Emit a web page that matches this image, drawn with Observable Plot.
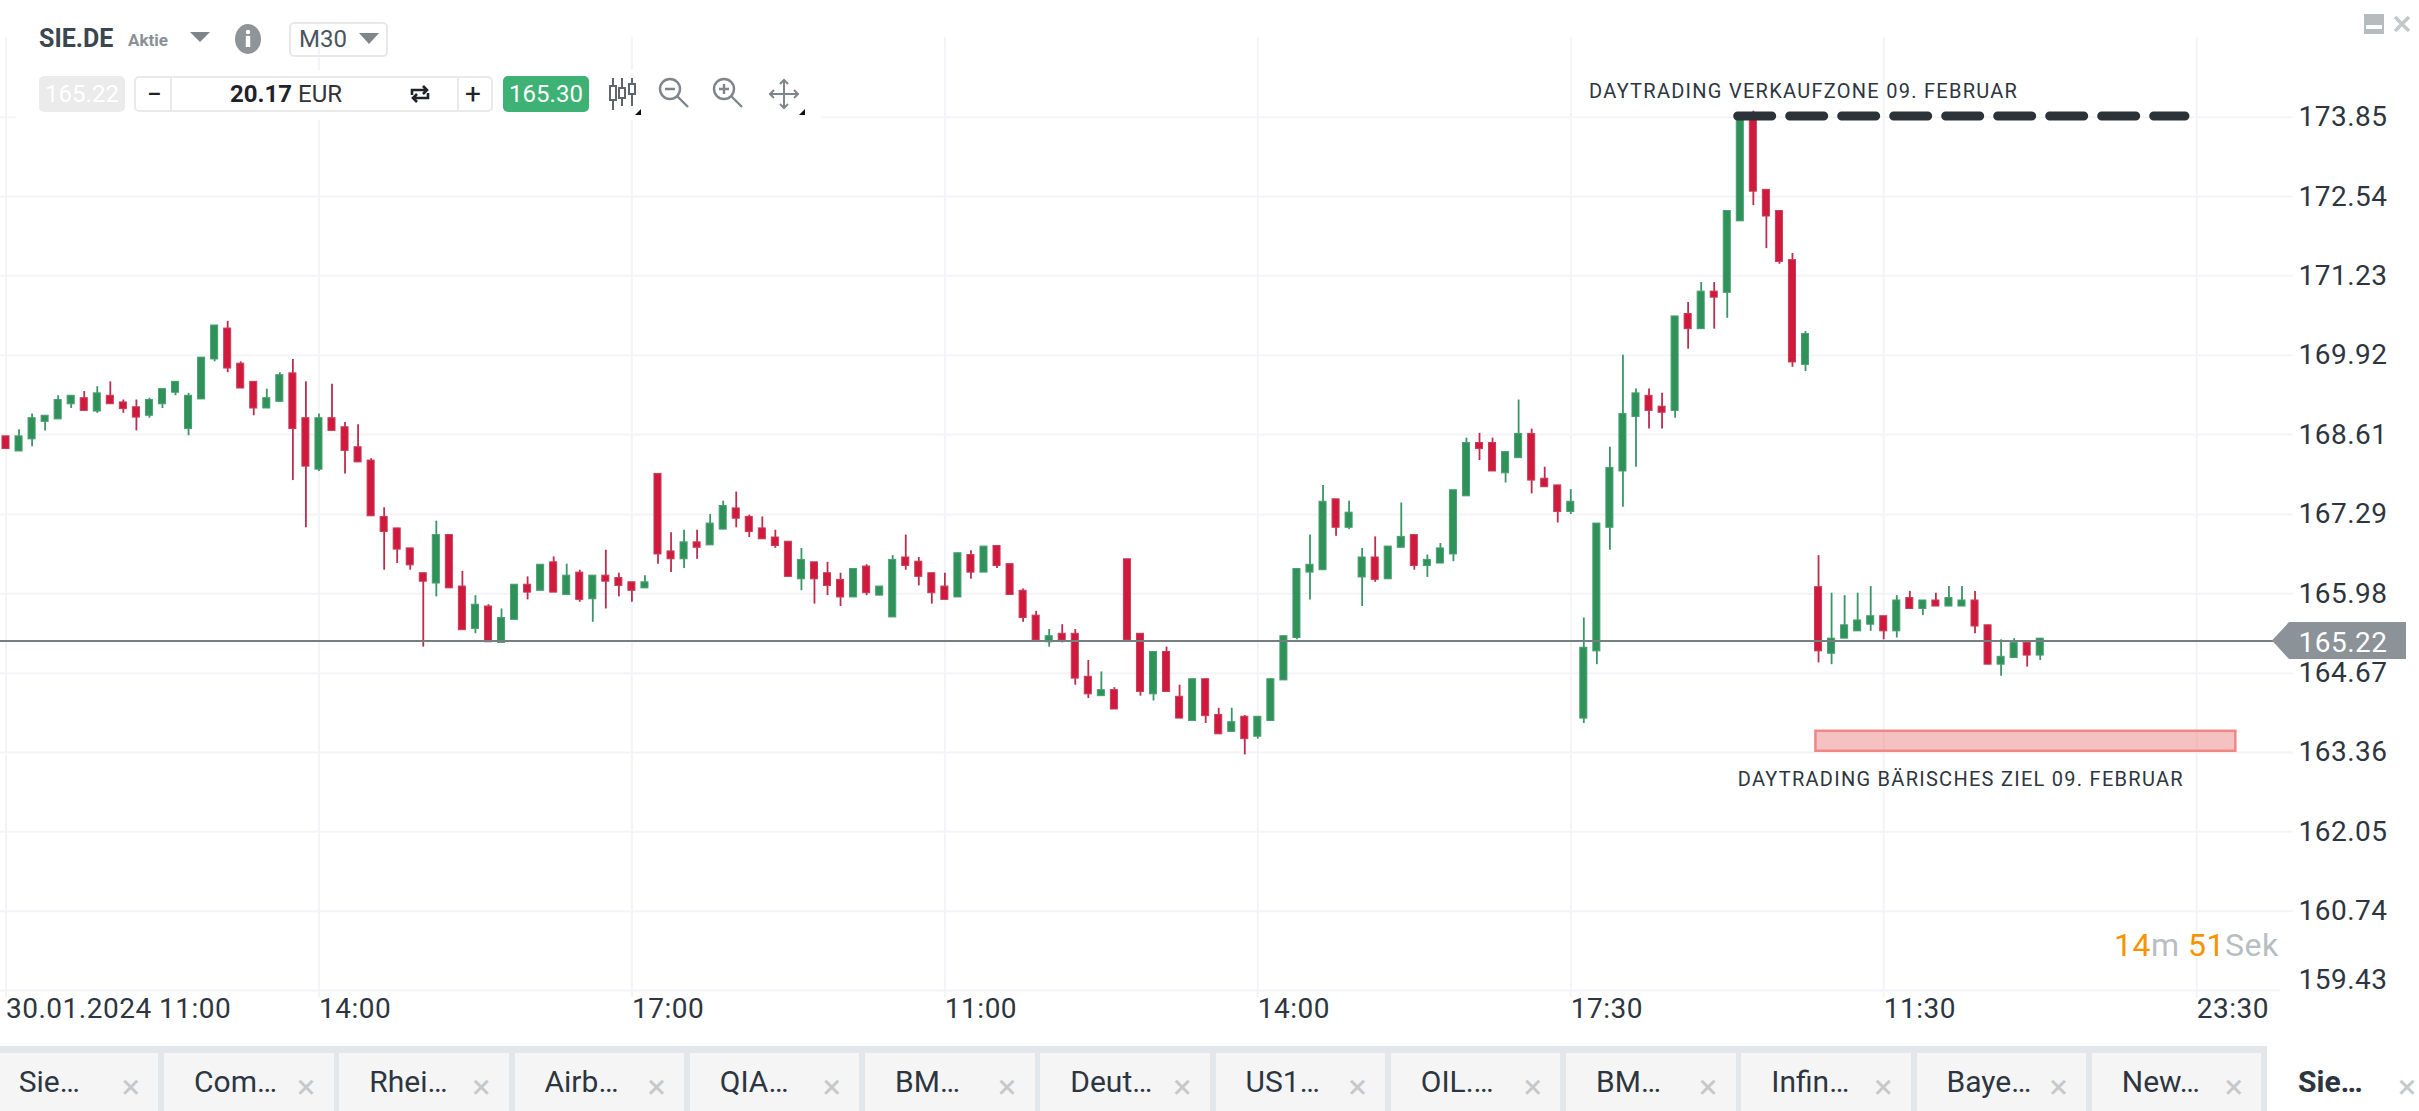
<!DOCTYPE html>
<html lang="de">
<head>
<meta charset="utf-8">
<title>SIE.DE M30</title>
<script src="https://cdn.jsdelivr.net/npm/d3@7"></script>
<script src="https://cdn.jsdelivr.net/npm/@observablehq/plot@0.6"></script>
<style>
html,body{margin:0;padding:0;background:#fff;width:2419px;height:1111px;overflow:hidden}
#wrap{position:relative;width:2419px;height:1111px;font-family:Roboto,sans-serif;color:#2d3640;overflow:hidden}
#wrap svg.plot-root{position:absolute;left:0;top:0}
.abs{position:absolute;white-space:nowrap}
.box{position:absolute;box-sizing:border-box}
.ctr{display:flex;align-items:center;justify-content:center}
.tab{position:absolute;top:1053px;height:58px;background:#f5f5f6;font-size:30px;line-height:58px}
.tab span.l{position:absolute;left:30px;top:0}
.tab span.x{position:absolute;left:133px;top:4px;color:#c6c9cb;font-size:34px;font-weight:400}
</style>
</head>
<body>
<div id="wrap"></div>
<script>
const direction = (
  "rgggggrgrr"+"rggggggrrr"+"ggrrgrrrrr"+"rrrgrrgrgg"+"rgrgrgrrrg"+"rrgrggrrrr"+"rgrrrgrggr"+"rrrgrgrrrr"+
  "grrrgrrrgr"+"rgrrgrgggg"+"ggrggrggrg"+"gggrrggrrr"+"ggggggrrgr"+"grggrrrrgr"+"ggggrgrgrg"+"grrggrg").split("");
const high = [
168.58,168.69,168.95,168.92,169.25,169.25,169.32,169.40,169.48,169.18,
169.18,169.21,169.36,169.48,169.29,169.88,170.41,170.48,169.81,169.48,
169.36,169.63,169.85,169.48,168.95,169.44,168.81,168.77,168.21,167.40,
167.06,166.73,166.32,167.18,166.95,166.35,165.95,165.80,165.73,166.13,
166.26,166.46,166.59,166.47,166.37,166.28,166.70,166.32,166.17,166.28,
167.96,166.99,167.03,167.03,167.29,167.51,167.66,167.28,167.25,167.03,
166.84,166.73,166.50,166.50,166.32,166.39,166.46,166.10,166.61,166.95,
166.58,166.32,166.32,166.65,166.69,166.76,166.77,166.47,166.06,165.69,
165.39,165.47,165.39,164.88,164.69,164.43,166.55,165.32,165.02,165.10,
164.47,164.57,164.57,164.09,164.09,163.97,163.95,164.57,165.28,166.39,
166.95,167.77,167.54,167.51,166.73,166.92,166.76,167.48,166.95,166.62,
166.81,167.69,168.55,168.63,168.55,168.32,169.18,168.70,168.07,167.77,
167.70,165.58,167.14,168.40,169.92,169.36,169.36,169.29,170.56,170.79,
171.12,171.12,172.30,173.90,173.95,172.65,172.30,171.60,170.31,166.61,
165.99,165.95,165.99,166.10,165.61,165.95,166.02,165.87,165.99,166.10,
166.10,166.02,165.46,165.22,165.24,165.17,165.24];
const bodyTop = [
168.58,168.58,168.88,168.92,169.18,169.25,169.21,169.29,169.25,169.14,
169.06,169.18,169.36,169.48,169.25,169.88,170.41,170.36,169.78,169.48,
169.21,169.59,169.62,168.88,168.88,168.88,168.73,168.40,168.18,167.25,
167.06,166.73,166.32,166.95,166.95,166.10,165.80,165.77,165.58,166.13,
166.13,166.46,166.50,166.28,166.33,166.28,166.28,166.24,166.17,166.17,
167.96,166.68,166.83,166.83,167.14,167.43,167.39,167.25,167.06,166.91,
166.84,166.54,166.50,166.32,166.21,166.39,166.43,166.10,166.54,166.58,
166.51,166.32,166.10,166.65,166.62,166.76,166.77,166.47,166.03,165.62,
165.28,165.32,165.32,164.61,164.39,164.39,166.55,165.32,165.02,165.02,
164.28,164.57,164.57,163.98,163.86,163.95,163.95,164.57,165.28,166.39,
166.46,167.50,167.54,167.32,166.58,166.58,166.76,166.92,166.95,166.54,
166.73,167.69,168.47,168.47,168.47,168.32,168.62,168.62,167.88,167.77,
167.50,165.09,167.14,168.06,168.95,169.29,169.25,169.07,170.56,170.60,
170.97,170.97,172.30,173.88,173.85,172.65,172.30,171.49,170.27,166.09,
165.24,165.46,165.54,165.61,165.61,165.87,165.91,165.87,165.87,165.91,
165.87,165.87,165.46,164.94,165.17,165.17,165.24];
const bodyBottom = [
168.37,168.33,168.53,168.82,168.86,169.11,169.00,168.99,169.11,169.03,
168.89,168.92,169.11,169.30,168.70,169.19,169.85,169.70,169.37,169.04,
169.04,169.15,168.70,168.08,168.03,168.67,168.34,168.15,167.26,167.00,
166.71,166.45,166.18,166.15,166.07,165.38,165.40,165.18,165.17,165.55,
166.00,166.03,166.00,165.96,165.88,165.89,166.18,166.11,166.03,166.07,
166.63,166.55,166.55,166.74,166.78,167.04,167.22,167.00,166.88,166.77,
166.26,166.22,166.22,166.11,165.92,165.92,165.99,165.95,165.59,166.44,
166.26,165.99,165.88,165.92,166.33,166.33,166.44,165.96,165.58,165.21,
165.18,165.21,164.58,164.32,164.29,164.07,165.21,164.36,164.32,164.36,
163.92,163.88,163.96,163.66,163.70,163.58,163.62,163.88,164.55,165.25,
166.33,166.37,167.07,167.07,166.25,166.21,166.22,166.74,166.44,166.44,
166.48,166.63,167.59,168.37,168.00,167.97,168.22,167.85,167.74,167.33,
167.33,163.92,165.03,167.07,168.00,168.90,169.00,168.97,169.00,170.35,
170.35,170.87,170.95,172.13,172.62,172.21,171.46,169.80,169.76,165.03,
164.99,165.24,165.36,165.47,165.36,165.36,165.73,165.73,165.77,165.77,
165.77,165.44,164.81,164.81,164.92,164.96,164.96];
const low = [
168.37,168.33,168.41,168.67,168.86,169.04,169.00,168.96,169.11,168.96,
168.67,168.88,169.04,169.25,168.59,169.19,169.81,169.63,169.37,168.92,
169.04,169.15,167.85,167.07,168.00,168.67,167.96,168.15,167.26,166.37,
166.48,166.37,165.10,165.93,166.07,165.38,165.32,165.18,165.17,165.55,
165.88,166.03,166.00,165.96,165.84,165.51,165.73,165.93,165.84,166.07,
166.47,166.33,166.40,166.55,166.78,167.04,167.07,166.91,166.88,166.73,
166.26,166.03,165.81,165.95,165.77,165.92,165.95,165.95,165.59,166.37,
166.11,165.81,165.88,165.92,166.22,166.33,166.40,165.96,165.51,165.21,
165.10,165.17,164.47,164.25,164.29,164.07,165.21,164.29,164.21,164.36,
163.92,163.88,163.84,163.66,163.70,163.32,163.58,163.88,164.55,165.22,
165.88,166.37,166.93,167.04,165.77,166.17,166.22,166.74,166.37,166.25,
166.48,166.51,167.59,168.18,168.00,167.81,168.22,167.63,167.74,167.15,
167.29,163.84,164.81,166.70,167.41,168.07,168.70,168.70,168.88,170.02,
170.35,170.35,170.53,172.13,172.39,171.68,171.42,169.72,169.65,164.84,
164.81,165.24,165.36,165.36,165.22,165.25,165.73,165.62,165.77,165.77,
165.77,165.32,164.81,164.62,164.92,164.77,164.88];

const yTicks = [173.85,172.54,171.23,169.92,168.61,167.29,165.98,164.67,163.36,162.05,160.74,159.43];
const xTickIndex = [0,24,48,72,96,120,144,168];
const xTickLabels = ["30.01.2024 11:00","14:00","17:00","11:00","14:00","17:30","11:30","23:30"];
const linePrice = 165.2;
const priceLabel = "165.22";
const sellZone = {price:173.87, from:132.8, to:167.1, label:"DAYTRADING VERKAUFZONE 09. FEBRUAR"};
const targetZone = {top:163.71, bottom:163.38, from:138.8, to:171.0, label:"DAYTRADING BÄRISCHES ZIEL 09. FEBRUAR"};
const tabNames = ["Sie…","Com…","Rhei…","Airb…","QIA…","BM…","Deut…","US1…","OIL.…","BM…","Infin…","Baye…","New…"];

const RED="#d0193c", REDW="#bd2c4c", REDS="#c53e59", GREEN="#2e9259", GREENW="#3a9566", GREENS="#4a9e74";
const candles = direction.map((d,i)=>({i,d,h:high[i],l:low[i],t:bodyTop[i],b:bodyBottom[i]}));
const ink="#2d3640", grid="#f3f4f7";

const tagMark = (index,{y},values,dims)=>{
  const c=y(linePrice), g=d3.create("svg:path");
  g.attr("d",`M2272,${c}L2289,${c-18.5}H2406V${c+18.5}H2289Z`).attr("fill","#8b9398");
  return g.node();
};

const chart = Plot.plot({
  width:2419,height:1111,margin:0,
  style:{fontFamily:"Roboto, sans-serif",background:"#fff",color:ink},
  x:{type:"linear",domain:[0,168],range:[5.5,2196.2],axis:null},
  y:{type:"linear",domain:[159.43,173.85],range:[990,116.7],axis:null},
  marks:[
    Plot.ruleY(yTicks.slice(0,-1),{x1:-1,x2:175.4,stroke:grid,strokeWidth:2}),
    Plot.ruleY(yTicks.slice(-1),{x1:-1,x2:174.4,stroke:grid,strokeWidth:2}),
    Plot.ruleX(xTickIndex,{y1:175.17,y2:159.31,stroke:grid,strokeWidth:2}),
    Plot.rect([targetZone],{x1:"from",x2:"to",y1:"top",y2:"bottom",fill:"#ea6f6f",fillOpacity:0.43,stroke:"#f08686",strokeWidth:2.5}),
    Plot.ruleX(candles,{x:"i",y1:"l",y2:"h",stroke:d=>d.d==="r"?REDW:GREENW,strokeWidth:1.8}),
    Plot.rect(candles,{x1:d=>d.i-0.5,x2:d=>d.i+0.5,insetLeft:3,insetRight:3,y1:"b",y2:"t",
      fill:d=>d.d==="r"?RED:GREEN,stroke:d=>d.d==="r"?REDS:GREENS,strokeWidth:1}),
    Plot.ruleY([linePrice],{x1:-1,x2:174.2,stroke:"#74807f",strokeWidth:2}),
    Plot.line([[sellZone.from,sellZone.price],[sellZone.to,sellZone.price]],
      {stroke:"#2b3238",strokeWidth:9,strokeLinecap:"round",strokeDasharray:"34 18"}),
    Plot.text(yTicks.slice(0,-1),{frameAnchor:"left",dx:2298,y:d=>d,text:d=>d.toFixed(2),textAnchor:"start",fontSize:28,fill:ink}),
    Plot.text(yTicks.slice(-1),{frameAnchor:"left",dx:2298,dy:-10,y:d=>d,text:d=>d.toFixed(2),textAnchor:"start",fontSize:28,fill:ink}),
    tagMark,
    Plot.text([priceLabel],{frameAnchor:"left",dx:2298,dy:2,y:()=>linePrice,text:d=>d,textAnchor:"start",fontSize:28,fill:"#fff"}),
    Plot.text(xTickIndex,{x:d=>d,frameAnchor:"bottom",dy:-94,text:(d,i)=>xTickLabels[i],textAnchor:"start",dx:0,fontSize:28,fill:ink}),
    Plot.text([sellZone],{x:121.4,y:174.28,text:"label",textAnchor:"start",fontSize:20,fill:ink}),
    Plot.text([targetZone],{x:132.8,y:162.92,text:"label",textAnchor:"start",fontSize:20,fill:ink})
  ]
});
d3.select(chart).selectAll("text").style("letter-spacing",function(){
  return this.textContent.startsWith("DAYTRADING") ? "1.27px" : "0.5px";
});
const wrap=document.getElementById("wrap");
wrap.appendChild(chart);
chart.classList && chart.classList.add("plot-root");

function add(html){const t=document.createElement("div");t.innerHTML=html;while(t.firstChild)wrap.appendChild(t.firstChild);}
add(`
<div class="box" style="left:16px;top:70px;width:805px;height:50px;background:#fff"></div>
<div class="abs" style="left:39px;top:24px;font-size:25px;font-weight:700;color:#3b4750;line-height:30px">SIE.DE</div>
<div class="abs" style="left:128px;top:29px;font-size:17px;font-weight:700;color:#8a9095;line-height:22px">Aktie</div>
<svg class="abs" style="left:188px;top:30px" width="24" height="14"><path d="M2 2H22L12 12Z" fill="#7f8589"/></svg>
<svg class="abs" style="left:232px;top:21px" width="32" height="36"><ellipse cx="16" cy="18" rx="13" ry="15" fill="#8f9498"/><circle cx="16" cy="11" r="2.2" fill="#fff"/><rect x="13.8" y="15" width="4.4" height="11" fill="#fff"/></svg>
<div class="box" style="left:289px;top:22px;width:99px;height:35px;border:2px solid #e6e8ea;border-radius:5px"></div>
<div class="abs" style="left:299px;top:24px;font-size:24px;color:#4a555e;line-height:30px">M30</div>
<svg class="abs" style="left:358px;top:31px" width="22" height="14"><path d="M1 2H21L11 13Z" fill="#7f8589"/></svg>

<div class="box ctr" style="left:39px;top:76px;width:86px;height:36px;background:#ebebeb;border-radius:5px;color:#fff;font-size:24px">165.22</div>
<div class="box" style="left:134px;top:76px;width:359px;height:36px;border:2px solid #e8eaec;border-radius:5px"></div>
<div class="box" style="left:170px;top:77px;width:2px;height:34px;background:#e8eaec"></div>
<div class="box" style="left:457px;top:77px;width:2px;height:34px;background:#e8eaec"></div>
<div class="abs" style="left:147px;top:78px;font-size:26px;font-weight:500;line-height:32px;color:#1d2328">−</div>
<div class="abs" style="left:465px;top:78px;font-size:28px;font-weight:400;line-height:32px;color:#1d2328">+</div>
<div class="abs" style="left:230px;top:79px;font-size:24px;line-height:30px;color:#1d2328"><b>20.17</b> <span style="color:#333">EUR</span></div>
<svg class="abs" style="left:409px;top:83px" width="22" height="22" viewBox="0 0 22 22" fill="none" stroke="#1d2328" stroke-width="2.6"><path d="M3 12V7H17M14 3L18 7L14 11M19 10V15H5M8 19L4 15L8 11"/></svg>
<div class="box ctr" style="left:503px;top:76px;width:86px;height:36px;background:#3db274;border-radius:5px;color:#fff;font-size:24px">165.30</div>
<svg class="abs" style="left:606px;top:76px" width="34" height="36" fill="none" stroke="#5e666c" stroke-width="2"><path d="M7 2V34M16 2V30M26 2V30"/><rect x="4" y="10" width="6" height="14" fill="#fff"/><rect x="13" y="12" width="6" height="10" fill="#fff"/><rect x="23" y="8" width="6" height="10" fill="#fff"/></svg>
<svg class="abs" style="left:635px;top:109px" width="6" height="6"><path d="M6 0V6H0Z" fill="#111"/></svg>
<svg class="abs" style="left:657px;top:76px" width="34" height="34" fill="none" stroke="#7e868b" stroke-width="2.4"><circle cx="13" cy="13" r="10"/><path d="M20 20L31 31M8 13H18"/></svg>
<svg class="abs" style="left:711px;top:76px" width="34" height="34" fill="none" stroke="#7e868b" stroke-width="2.4"><circle cx="13" cy="13" r="10"/><path d="M20 20L31 31M8 13H18M13 8V18"/></svg>
<svg class="abs" style="left:768px;top:78px" width="32" height="32" fill="none" stroke="#7e868b" stroke-width="2"><path d="M16 2V30M2 16H30"/><path d="M12 6L16 2L20 6M12 26L16 30L20 26M6 12L2 16L6 20M26 12L30 16L26 20"/></svg>
<svg class="abs" style="left:799px;top:109px" width="6" height="6"><path d="M6 0V6H0Z" fill="#111"/></svg>

<svg class="abs" style="left:2364px;top:14px" width="20" height="20"><rect width="20" height="20" fill="#b6bbbe"/><rect x="2" y="11" width="16" height="4" fill="#fff"/></svg>
<svg class="abs" style="left:2393px;top:15px" width="18" height="18" stroke="#c4c8ca" stroke-width="3.4"><path d="M2 2L16 16M16 2L2 16"/></svg>

<div class="abs" style="left:2114px;top:925px;font-size:32px;line-height:40px;color:#b8bdc1;letter-spacing:0.5px"><span style="color:#f59300">14</span>m <span style="color:#f59300">51</span>Sek</div>

<div class="box" style="left:0;top:1046px;width:2267px;height:65px;background:#e4e7ea"></div>
`);
tabNames.forEach((n,k)=>{
  const left=164+175.25*(k-1);
  add(`<div class="tab" style="left:${left}px;width:169.5px"><span class="l">${n}</span><span class="x">×</span></div>`);
});
add(`<div class="abs" style="left:2298px;top:1053px;font-size:30px;line-height:58px;font-weight:700;color:#2d3640">Sie…</div>
<div class="abs" style="left:2398px;top:1057px;font-size:34px;line-height:58px;color:#c6c9cb">×</div>`);
</script>
</body>
</html>
